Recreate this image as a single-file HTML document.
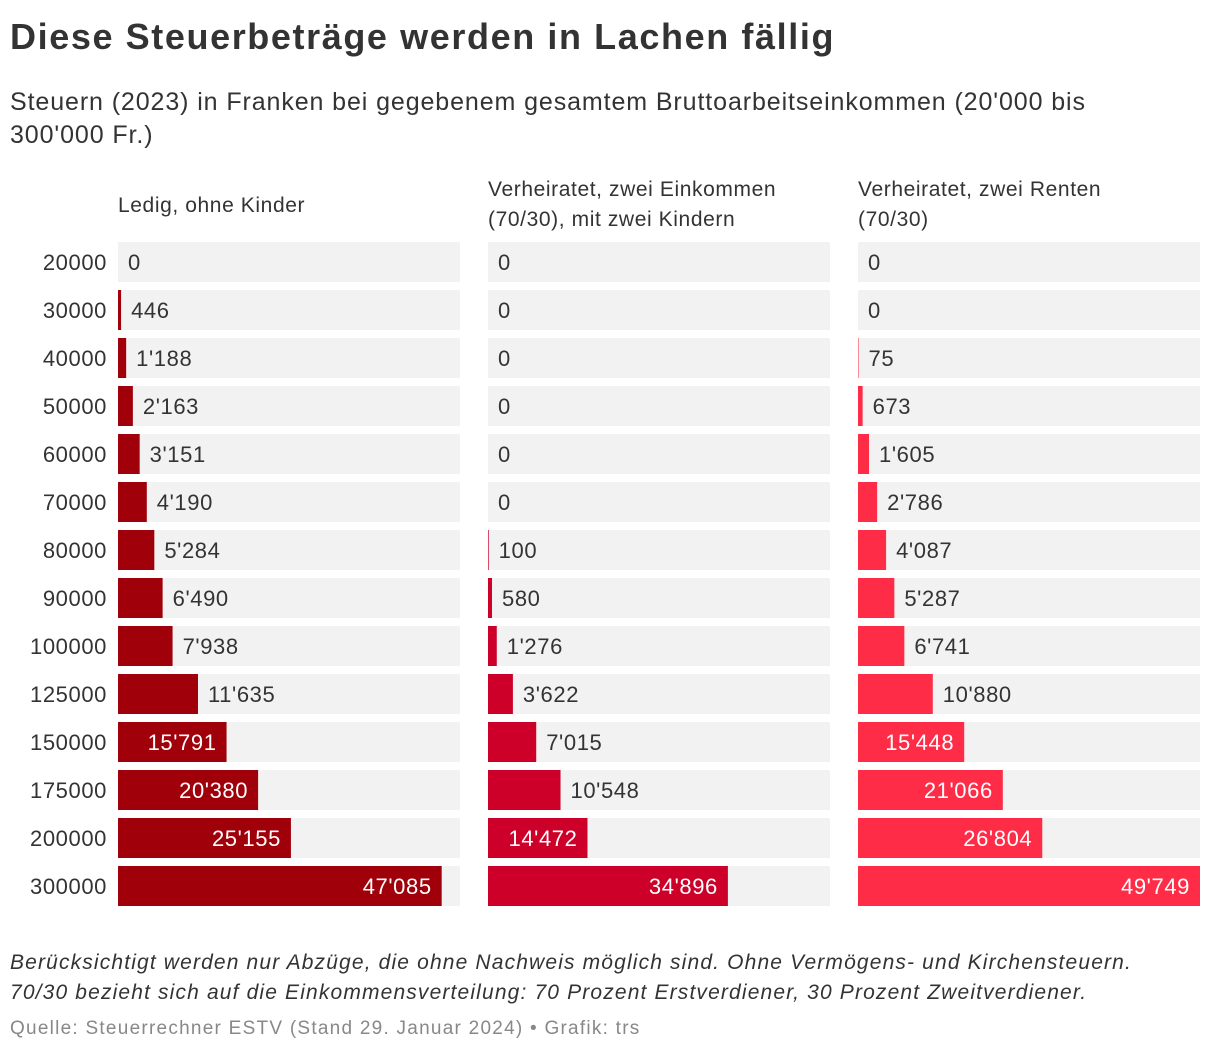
<!DOCTYPE html>
<html><head><meta charset="utf-8">
<style>
body{margin:0;background:#fff;width:1220px;height:1054px;overflow:hidden;font-family:"Liberation Sans",sans-serif;color:#333}
.t{position:absolute;white-space:nowrap}
svg text{letter-spacing:0.6px}
</style></head>
<body>
<div class="t" style="left:10px;top:16px;font-size:36px;font-weight:bold;color:#333;letter-spacing:1.6px">Diese Steuerbeträge werden in Lachen fällig</div>
<div class="t" style="left:10px;top:86px;font-size:25px;line-height:33px;color:#333;letter-spacing:0.9px">Steuern (2023) in Franken bei gegebenem gesamtem Bruttoarbeitseinkommen (20'000 bis<br>300'000 Fr.)</div>
<svg id="chart" width="1220" height="1054" style="position:absolute;left:0;top:0"></svg>
<div class="t" style="left:10px;top:948px;font-size:21px;line-height:30px;font-style:italic;color:#333;letter-spacing:1.15px">Berücksichtigt werden nur Abzüge, die ohne Nachweis möglich sind. Ohne Vermögens- und Kirchensteuern.<br>70/30 bezieht sich auf die Einkommensverteilung: 70 Prozent Erstverdiener, 30 Prozent Zweitverdiener.</div>
<div class="t" style="left:10px;top:1018px;font-size:19px;color:#888;letter-spacing:1.25px">Quelle: Steuerrechner ESTV (Stand 29. Januar 2024) • Grafik: trs</div>
<script>
const categories=["20000","30000","40000","50000","60000","70000","80000","90000","100000","125000","150000","175000","200000","300000"];
const seriesNames=[["Ledig, ohne Kinder"],["Verheiratet, zwei Einkommen","(70/30), mit zwei Kindern"],["Verheiratet, zwei Renten","(70/30)"]];
const single=[0,446,1188,2163,3151,4190,5284,6490,7938,11635,15791,20380,25155,47085];
const marriedTwo=[0,0,0,0,0,0,100,580,1276,3622,7015,10548,14472,34896];
const pensions=[0,0,75,673,1605,2786,4087,5287,6741,10880,15448,21066,26804,49749];
const series=[single,marriedTwo,pensions];
const colors=["#a0000a","#cc0028","#ff2c48"];
const NS="http://www.w3.org/2000/svg";
const svg=document.getElementById('chart');
const panelX=[118,488,858],panelW=342,rowY0=242,rowStep=48,rowH=40;
const maxV=Math.max(...series.flat());
const x=v=>v/maxV*panelW;
const y=i=>rowY0+i*rowStep;
const fmt=v=>String(v).replace(/\B(?=(\d{3})+(?!\d))/g,"'");
function mk(tag,a){const e=document.createElementNS(NS,tag);for(const k in a)e.setAttribute(k,a[k]);svg.appendChild(e);return e;}
categories.forEach((c,i)=>{
  const t=mk('text',{x:107,y:y(i)+rowH/2+8,'text-anchor':'end','font-size':22,fill:'#333'});
  t.textContent=c;
  
  
});
series.forEach((s,p)=>{
  const x0=panelX[p];
  const lines=seriesNames[p];
  lines.forEach((l,j)=>{
    const t=mk('text',{x:x0,y:(lines.length===1?212:196)+j*30,'font-size':21,fill:'#333'});
    t.textContent=l;
    
    
  });
  s.forEach((v,i)=>{
    const bg=mk('rect',{x:x0,y:y(i),width:panelW,height:rowH,fill:'#f2f2f2'});
    
    
    const w=x(v);
    const b=mk('rect',{x:x0,y:y(i),width:w,height:rowH,fill:colors[p]});
    
    
    const inside=w>90;
    const t=mk('text',{x:inside?x0+w-10:x0+w+10,y:y(i)+rowH/2+8,'font-size':22,fill:inside?'#fff':'#333','text-anchor':inside?'end':'start'});
    t.textContent=fmt(v);
    
    
  });
});
</script>
</body></html>
